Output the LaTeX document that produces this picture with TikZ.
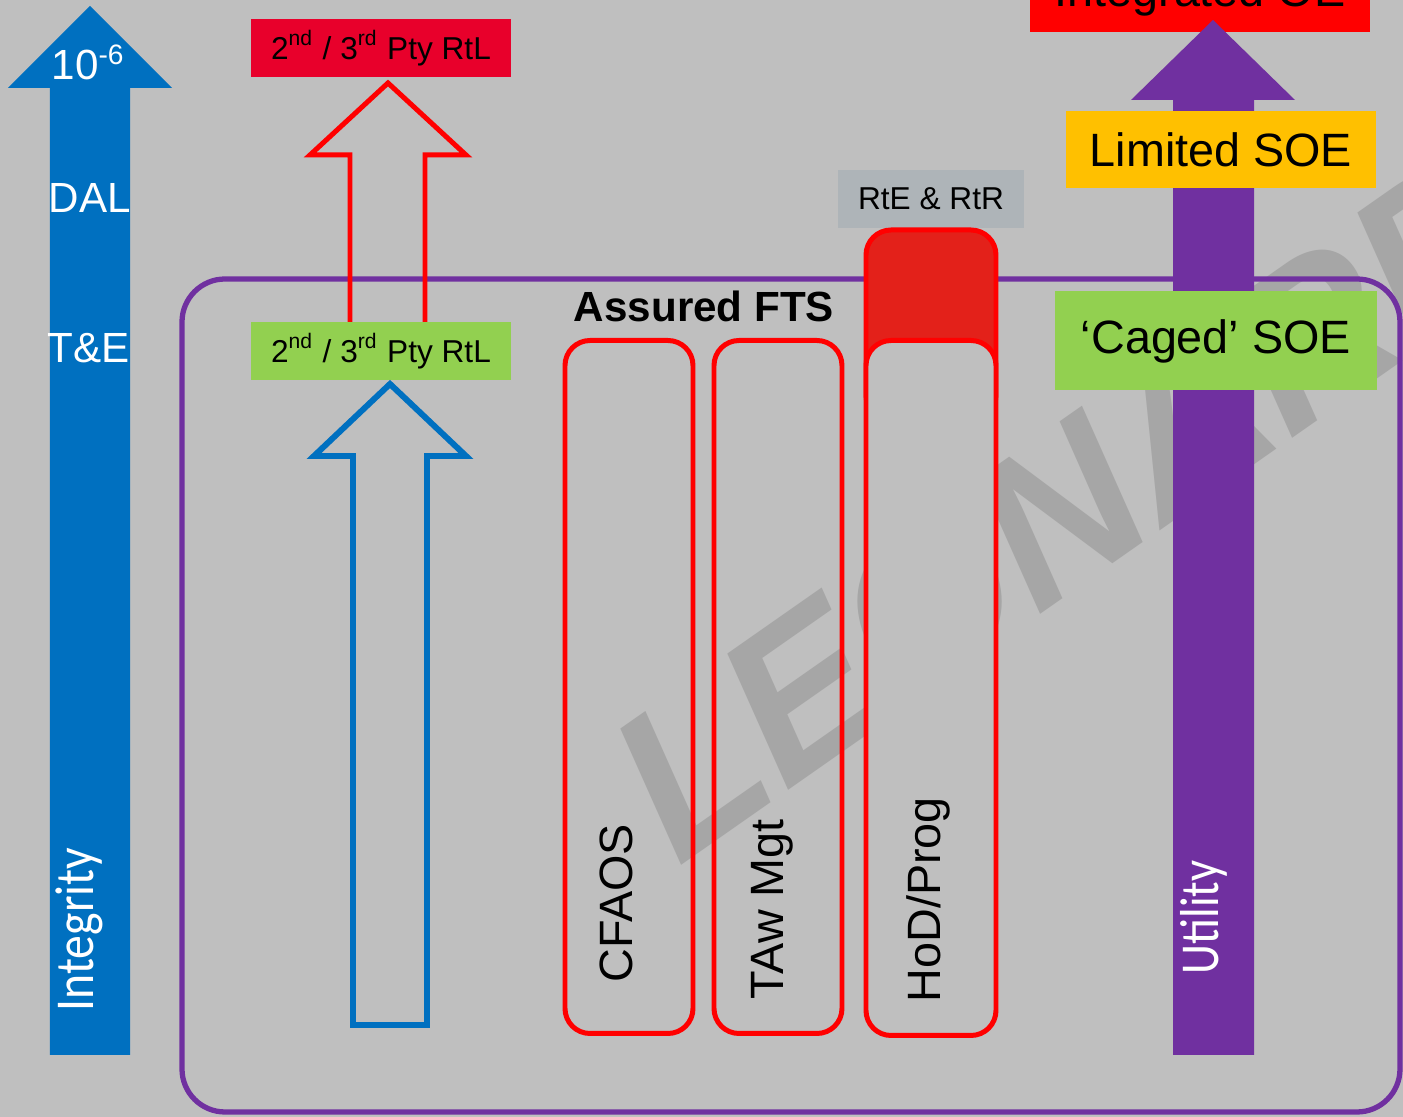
\documentclass[tikz,border=0pt]{standalone}
\usepackage{fontspec}
\setmainfont{Liberation Sans}
\newfontfamily\calfont{Carlito}

\definecolor{bggrey}{HTML}{BFBFBF}
\definecolor{wmgrey}{HTML}{A6A6A6}
\definecolor{intblue}{HTML}{0070C0}
\definecolor{utilpurple}{HTML}{7030A0}
\definecolor{rtlred}{HTML}{E8002B}
\definecolor{oered}{HTML}{FF0000}
\definecolor{topred}{HTML}{E3211A}
\definecolor{soeyellow}{HTML}{FFC000}
\definecolor{soegreen}{HTML}{92D050}
\definecolor{rtegrey}{HTML}{AEB4B8}

\tikzset{
  big/.style={font=\fontsize{13.3pt}{16pt}\selectfont},
  small/.style={font=\fontsize{9pt}{11pt}\selectfont},
  tagbox/.style={inner sep=0pt, text=black},
  ftsbox/.style={draw=oered, line width=1.42pt, rounded corners=2.5mm, inner sep=0pt},
  uptext/.style={rotate=90, anchor=base west, inner sep=0pt},
  axistext/.style={anchor=base west, inner sep=0pt, text=white, font=\fontsize{12pt}{14pt}\selectfont},
  wmark/.style={anchor=base west, rotate=35, inner sep=0pt, text=wmgrey,
          font=\fontsize{60.6pt}{70pt}\bfseries\itshape\selectfont},
}

\begin{document}
\begin{tikzpicture}[x=0.1mm,y=-0.1mm]
    \useasboundingbox (0,0) rectangle (1403,1117);
    \clip (0,0) rectangle (1403,1117);
    \fill[bggrey] (0,0) rectangle (1403,1117);

    % watermark
    \node[wmark] (wm) at (678,868) {LEONARDO};

    % integrity axis
    \fill[intblue] (50,1055) -- (50,88) -- (8,88) -- (90,6) -- (172,88) -- (130,88) -- (130,1055) -- cycle;
    \node[axistext] (dal6) at (51,80) {10\textsuperscript{-6}};
    \node[axistext] (dal) at (48,213) {DAL};
    \node[axistext] (te) at (47,363) {T\&E};
    \node[uptext, text=white, font=\fontsize{15.6pt}{18pt}\calfont] (integrity) at (93,1012) {\scalebox{0.87}[1]{Integrity}};

    % utility axis
    \node[tagbox, big, fill=oered, minimum width=34mm, minimum height=7.7mm] (oe) at (1200,-6) {Integrated OE};
    \fill[utilpurple] (1173,1055) -- (1173,100) -- (1131,100) -- (1213,20) -- (1295,100) -- (1254,100) -- (1254,1055) -- cycle;
    \node[uptext, text=white, font=\fontsize{15.6pt}{18pt}\calfont] (utility) at (1218,975) {\scalebox{0.85}[1]{Utility}};

    % assured FTS frame
    \draw[utilpurple, line width=1.5pt, rounded corners=4.3mm] (182,279) rectangle (1400,1112);
    \node[anchor=base, inner sep=0pt, font=\fontsize{12pt}{14pt}\bfseries\selectfont] (fts) at (704,322) {Assured FTS};

    % right to launch
    \draw[oered, line width=1.42pt] (350,345) -- (350,155) -- (310,155) -- (388,83) -- (466,155) -- (425,155) -- (425,345);
    \node[tagbox, small, fill=rtlred, minimum width=26.1mm, minimum height=5.8mm] (rtlb) at (381,48) {2\textsuperscript{nd} / 3\textsuperscript{rd} Pty RtL};
    \node[tagbox, small, fill=soegreen, minimum width=26.1mm, minimum height=5.8mm] (rtla) at (381,351) {2\textsuperscript{nd} / 3\textsuperscript{rd} Pty RtL};
    \draw[intblue, line width=1.7pt] (353,1025) -- (353,456) -- (314,456) -- (390,384) -- (466,456) -- (427,456) -- (427,1025) -- cycle;

    % FTS columns
    \node[ftsbox, minimum width=12.8mm, minimum height=69.3mm] (cfaos) at (629,687) {};
    \node[ftsbox, minimum width=12.8mm, minimum height=69.3mm] (taw) at (778,687) {};
    \node[tagbox, small, fill=rtegrey, minimum width=18.7mm, minimum height=5.8mm] (rte) at (931,199) {RtE \& RtR};
    \node[ftsbox, fill=topred, minimum width=13.0mm, minimum height=19mm] (rtered) at (931,325) {};
    \node[ftsbox, fill=bggrey, minimum width=13.0mm, minimum height=69.5mm] (hod) at (931,688) {};
    \node[uptext, big] (cfaost) at (633,983) {CFAOS};
    \node[uptext, big] (tawt) at (784,1000) {TAw Mgt};
    \node[uptext, big] (hodt) at (941,1003) {HoD/Prog};

    % SOE levels
    \node[tagbox, big, fill=soeyellow, minimum width=31.1mm, minimum height=7.7mm] (limited) at (1221,150) {Limited SOE};
    \node[tagbox, big, fill=soegreen, minimum width=32.3mm, minimum height=9.9mm] (caged) at (1216,341) {‘Caged’ SOE};
\end{tikzpicture}
\end{document}
